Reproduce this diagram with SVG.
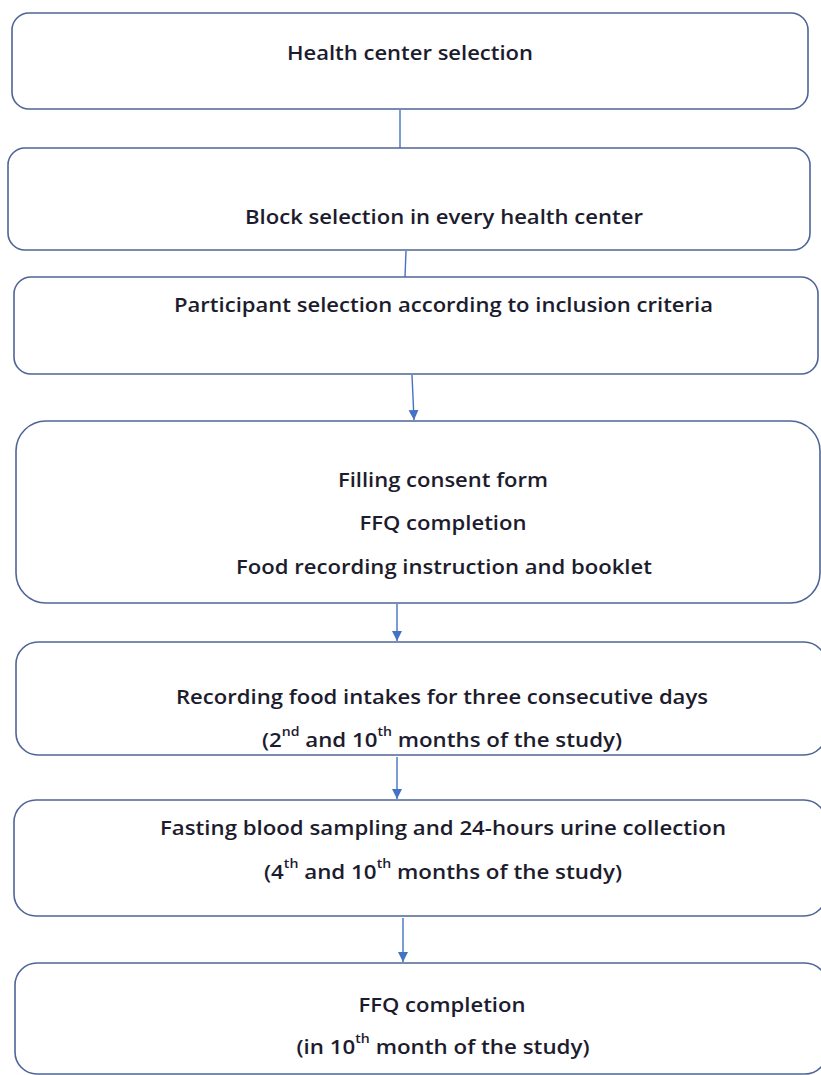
<svg xmlns="http://www.w3.org/2000/svg" width="821" height="1075" viewBox="0 0 821 1075">
<style>
.box{fill:#ffffff;stroke:#4f6596;stroke-width:1.6}
.t{font-family:"Open Sans","Liberation Sans",sans-serif;font-weight:600;font-size:19px;fill:#1c1c2e;text-anchor:middle;dominant-baseline:central}
.sup{font-size:12px}
.c{stroke:#4472c4;stroke-width:1.4;fill:none}
</style>
<defs>
<marker id="ah" markerUnits="userSpaceOnUse" markerWidth="12" markerHeight="12" refX="10" refY="5" orient="auto">
<path d="M0,0 L10,5 L0,10 Z" fill="#4472c4"/>
</marker>
</defs>
<rect width="821" height="1075" fill="#ffffff"/>
<g id="connectors">
<line class="c" x1="400" y1="110" x2="400" y2="150"/>
<line class="c" x1="406" y1="251" x2="405" y2="277"/>
<line class="c" x1="412" y1="375" x2="414" y2="420" marker-end="url(#ah)"/>
<line class="c" x1="397" y1="604" x2="397" y2="641" marker-end="url(#ah)"/>
<line class="c" x1="397" y1="757" x2="397" y2="799" marker-end="url(#ah)"/>
<line class="c" x1="403" y1="918" x2="403" y2="962" marker-end="url(#ah)"/>
</g>
<g id="n1">
<rect class="box" x="12" y="13" width="796" height="96" rx="17"/>
<text class="t" x="410" y="53" textLength="246" lengthAdjust="spacingAndGlyphs">Health center selection</text>
</g>
<g id="n2">
<rect class="box" x="8" y="148" width="802" height="102" rx="17"/>
<text class="t" x="444" y="217" textLength="398" lengthAdjust="spacingAndGlyphs">Block selection in every health center</text>
</g>
<g id="n3">
<rect class="box" x="14" y="277" width="804" height="97" rx="17"/>
<text class="t" x="443.5" y="305" textLength="539" lengthAdjust="spacingAndGlyphs">Participant selection according to inclusion criteria</text>
</g>
<g id="n4">
<rect class="box" x="16" y="421" width="804" height="182" rx="30"/>
<text class="t" x="443" y="480" textLength="210" lengthAdjust="spacingAndGlyphs">Filling consent form</text>
<text class="t" x="443" y="523" textLength="167" lengthAdjust="spacingAndGlyphs">FFQ completion</text>
<text class="t" x="444" y="567" textLength="416" lengthAdjust="spacingAndGlyphs">Food recording instruction and booklet</text>
</g>
<g id="n5">
<rect class="box" x="16" y="642" width="810" height="113" rx="22"/>
<text class="t" x="442" y="697" textLength="532" lengthAdjust="spacingAndGlyphs">Recording food intakes for three consecutive days</text>
<text class="t" x="442" y="740" textLength="360" lengthAdjust="spacingAndGlyphs">(2<tspan class="sup" baseline-shift="super">nd</tspan> and 10<tspan class="sup" baseline-shift="super">th</tspan> months of the study)</text>
</g>
<g id="n6">
<rect class="box" x="14" y="800" width="812" height="116" rx="22"/>
<text class="t" x="443" y="828" textLength="566" lengthAdjust="spacingAndGlyphs">Fasting blood sampling and 24-hours urine collection</text>
<text class="t" x="443" y="872" textLength="358" lengthAdjust="spacingAndGlyphs">(4<tspan class="sup" baseline-shift="super">th</tspan> and 10<tspan class="sup" baseline-shift="super">th</tspan> months of the study)</text>
</g>
<g id="n7">
<rect class="box" x="15" y="963" width="812" height="111" rx="22"/>
<text class="t" x="442" y="1005" textLength="167" lengthAdjust="spacingAndGlyphs">FFQ completion</text>
<text class="t" x="443" y="1047" textLength="293" lengthAdjust="spacingAndGlyphs">(in 10<tspan class="sup" baseline-shift="super">th</tspan> month of the study)</text>
</g>
</svg>
